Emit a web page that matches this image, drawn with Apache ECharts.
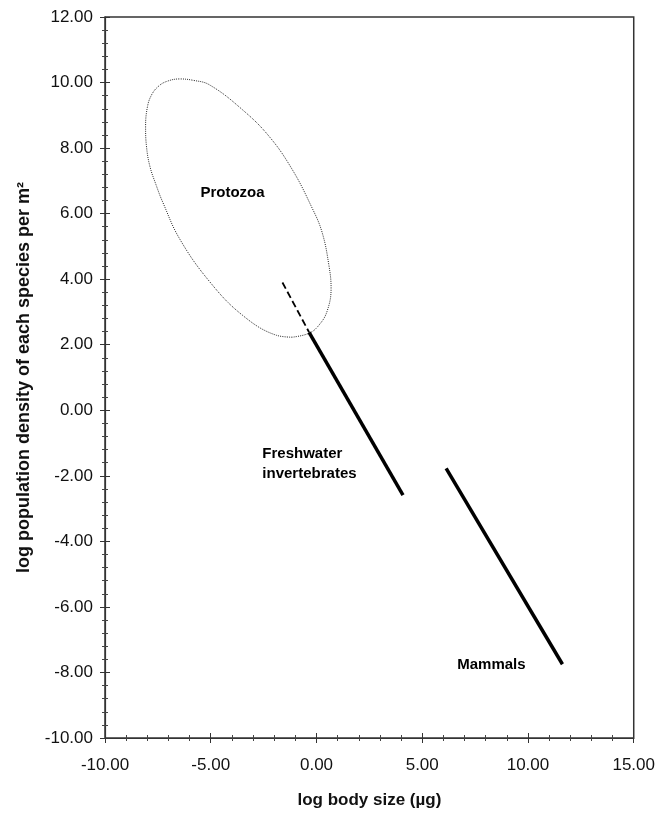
<!DOCTYPE html>
<html>
<head>
<meta charset="utf-8">
<script src="https://cdn.jsdelivr.net/npm/echarts@6/dist/echarts.min.js"></script>
<style>html,body{margin:0;padding:0;background:#fff;}#c{width:658px;height:814px;}</style>
</head>
<body>
<div id="c"></div>
<script>
// ---- data ----
const xTitle = 'log body size (µg)';
const yTitle = 'log population density of each species per m²';
const xRange = [-10, 15];
const yRange = [-10, 12];
// Protozoa envelope (dotted ellipse), points traced around the outline (starting at its lowest point)
const protozoaX = [-1.15, -1.90, -3.50, -5.06, -6.47, -7.27, -7.57, -7.88, -8.04, -8.08, -7.99, -7.80, -7.50, -7.10, -6.47, -5.85, -5.06, -3.50, -2.23, -1.15, -0.25, 0.26, 0.59, 0.69, 0.50, 0.12, -0.35, -1.15];
const protozoaY = [2.23, 2.29, 2.90, 3.93, 5.23, 6.35, 6.85, 7.45, 8.06, 8.67, 9.27, 9.62, 9.87, 10.03, 10.11, 10.07, 9.93, 9.17, 8.35, 7.35, 6.23, 5.44, 4.41, 3.72, 3.02, 2.60, 2.35, 2.23];
// Freshwater invertebrates: solid fitted line and dashed extrapolation
const freshX = [-0.35, 4.09];
const freshY = [2.38, -2.59];
const extrapX = [-1.61, -0.35];
const extrapY = [3.90, 2.38];
// Mammals line
const mammalX = [6.13, 11.63];
const mammalY = [-1.77, -7.75];
// Text labels
const labelNames = ['Protozoa', 'Freshwater\ninvertebrates', 'Mammals'];
const labelX = [-3.97, -2.56, 8.27];
const labelY = [6.63, -1.65, -7.78];

const zip = (a, b) => a.map((v, i) => [v, b[i]]);
const FONT = 'Liberation Sans, Arial, sans-serif';

const chart = echarts.init(document.getElementById('c'), null, {renderer: 'canvas'});

const tickBase = {
  type: 'value', min: xRange[0], max: xRange[1], interval: 5
};
const yBase = {
  type: 'value', min: yRange[0], max: yRange[1], interval: 2
};
const axisLineStyle = {color: '#333', width: 1.2};

chart.setOption({
  animation: false,
  backgroundColor: '#fff',
  grid: {left: 105, right: 22, top: 17, bottom: 71, show: true, borderColor: '#333', borderWidth: 1.5},
  xAxis: [
    Object.assign({}, tickBase, {
      position: 'bottom',
      name: xTitle, nameLocation: 'middle', nameGap: 54,
      nameTextStyle: {fontFamily: FONT, fontSize: 17, fontWeight: 'bold', color: '#111'},
      axisLine: {show: true, onZero: false, lineStyle: axisLineStyle},
      axisTick: {show: true, inside: false, length: 5, lineStyle: {color: '#333'}},
      minorTick: {show: true, splitNumber: 5, length: 3, lineStyle: {color: '#444'}},
      axisLabel: {fontFamily: FONT, fontSize: 17, color: '#111', margin: 19, formatter: v => v.toFixed(2)},
      splitLine: {show: false}
    }),
    Object.assign({}, tickBase, {
      position: 'bottom',
      axisLine: {show: false, onZero: false},
      axisTick: {show: true, inside: true, length: 5, lineStyle: {color: '#333'}},
      minorTick: {show: true, splitNumber: 5, length: 3, lineStyle: {color: '#444'}},
      axisLabel: {show: false},
      splitLine: {show: false}
    })
  ],
  yAxis: [
    Object.assign({}, yBase, {
      position: 'left',
      name: yTitle, nameLocation: 'middle', nameGap: 72, nameRotate: 90,
      nameTextStyle: {fontFamily: FONT, fontSize: 18, fontWeight: 'bold', color: '#111'},
      axisLine: {show: true, onZero: false, lineStyle: axisLineStyle},
      axisTick: {show: true, inside: false, length: 5, lineStyle: {color: '#333'}},
      minorTick: {show: true, splitNumber: 5, length: 3, lineStyle: {color: '#444'}},
      axisLabel: {fontFamily: FONT, fontSize: 17, color: '#111', margin: 12, formatter: v => v.toFixed(2)},
      splitLine: {show: false}
    }),
    Object.assign({}, yBase, {
      position: 'left',
      axisLine: {show: false, onZero: false},
      axisTick: {show: true, inside: true, length: 5, lineStyle: {color: '#333'}},
      minorTick: {show: true, splitNumber: 5, length: 3, lineStyle: {color: '#444'}},
      axisLabel: {show: false},
      splitLine: {show: false}
    })
  ],
  series: [
    {
      name: 'Protozoa', type: 'line', smooth: 0.4, symbol: 'none',
      data: zip(protozoaX, protozoaY),
      lineStyle: {color: '#222', width: 1, type: [1, 1.2]}
    },
    {
      name: 'extrap', type: 'line', symbol: 'none',
      data: zip(extrapX, extrapY),
      lineStyle: {color: '#000', width: 1.8, type: [7, 3.5]}
    },
    {
      name: 'Freshwater invertebrates', type: 'line', symbol: 'none',
      data: zip(freshX, freshY),
      lineStyle: {color: '#000', width: 3.5, cap: 'butt'}
    },
    {
      name: 'Mammals', type: 'line', symbol: 'none',
      data: zip(mammalX, mammalY),
      lineStyle: {color: '#000', width: 3.5, cap: 'butt'}
    },
    {
      name: 'labels', type: 'scatter', symbolSize: 0,
      itemStyle: {opacity: 1},
      data: labelNames.map((n, i) => ({
        value: [labelX[i], labelY[i]],
        label: {
          show: true, formatter: n, position: 'inside',
          align: i === 1 ? 'left' : 'center',
          fontFamily: FONT, fontSize: 15, fontWeight: 'bold', color: '#000', lineHeight: 20
        }
      }))
    }
  ]
});
</script>
</body>
</html>
